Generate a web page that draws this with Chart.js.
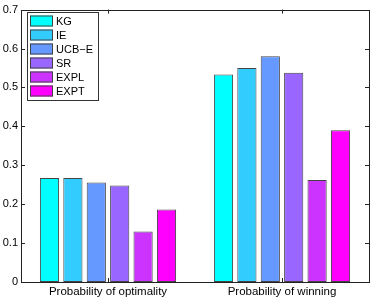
<!DOCTYPE html>
<html>
<head>
<meta charset="utf-8">
<script src="https://cdn.jsdelivr.net/npm/chart.js@4/dist/chart.umd.min.js"></script>
<style>
  html, body { margin: 0; padding: 0; background: #fff; }
  #wrap { width: 376px; height: 298px; }
</style>
</head>
<body>
<div id="wrap"><canvas id="c"></canvas></div>
<script>
// data
const categories = ['Probability of optimality', 'Probability of winning'];
const methods = ['KG', 'IE', 'UCB\u2212E', 'SR', 'EXPL', 'EXPT'];
const KG   = [0.267, 0.533];
const IE   = [0.267, 0.550];
const UCBE = [0.256, 0.580];
const SR   = [0.248, 0.538];
const EXPL = [0.130, 0.262];
const EXPT = [0.186, 0.390];
const yTicks = [0, 0.1, 0.2, 0.3, 0.4, 0.5, 0.6, 0.7];

const colors = ['#00ffff', '#33ccff', '#6699ff', '#9966ff', '#cc33ff', '#ff00ff'];
const series = [KG, IE, UCBE, SR, EXPL, EXPT];

const FONT = 'Liberation Sans, Arial, Helvetica, sans-serif';

// matlab style box, inside ticks and legend
const matlabBox = {
  id: 'matlabBox',
  afterDraw(chart) {
    const ctx = chart.ctx;
    const a = chart.chartArea;
    const y = chart.scales.y, x = chart.scales.x;
    ctx.save();
    ctx.strokeStyle = '#222';
    ctx.lineWidth = 1;
    ctx.strokeRect(Math.round(a.left) + 0.5, Math.round(a.top) + 0.5,
      Math.round(a.right - a.left), Math.round(a.bottom - a.top));
    ctx.beginPath();
    yTicks.forEach(v => {
      const py = Math.round(y.getPixelForValue(v)) + 0.5;
      ctx.moveTo(a.left, py); ctx.lineTo(a.left + 4, py);
      ctx.moveTo(a.right, py); ctx.lineTo(a.right - 4, py);
    });
    categories.forEach((c, i) => {
      const px = Math.round(x.getPixelForValue(i)) + 0.5;
      ctx.moveTo(px, a.bottom); ctx.lineTo(px, a.bottom - 4);
      ctx.moveTo(px, a.top); ctx.lineTo(px, a.top + 4);
    });
    ctx.stroke();

    // legend
    const lx = 27, ly = 12, lw = 71, lh = 88;
    ctx.fillStyle = '#fff';
    ctx.fillRect(lx, ly, lw, lh);
    ctx.strokeStyle = '#333';
    ctx.strokeRect(lx + 0.5, ly + 0.5, lw, lh);
    ctx.font = '11px ' + FONT;
    ctx.textBaseline = 'middle';
    chart.data.datasets.forEach((ds, i) => {
      const cy = 20.5 + i * 14;
      ctx.fillStyle = ds.backgroundColor;
      ctx.fillRect(30, cy - 5, 23, 11);
      ctx.strokeStyle = '#444';
      ctx.strokeRect(30.5, cy - 4.5, 22, 10);
      ctx.fillStyle = '#000';
      ctx.fillText(ds.label, 56, cy + 1);
    });
    ctx.restore();
  }
};

new Chart(document.getElementById('c'), {
  type: 'bar',
  data: {
    labels: categories,
    datasets: methods.map((m, i) => ({
      label: m,
      data: series[i],
      backgroundColor: colors[i],
      borderColor: '#444',
      borderWidth: 1,
      borderSkipped: false,
      categoryPercentage: 0.807,
      barPercentage: 0.82
    }))
  },
  options: {
    responsive: true,
    maintainAspectRatio: false,
    animation: false,
    layout: { padding: { left: 0, right: 7, top: 8, bottom: 0 } },
    scales: {
      x: {
        grid: { display: false, drawTicks: false },
        border: { display: false },
        ticks: { color: '#000', font: { family: FONT, size: 11.5 }, padding: 3, maxRotation: 0 },
        afterFit(s) { s.height = 16; }
      },
      y: {
        min: 0,
        max: 0.7,
        grid: { display: false, drawTicks: false },
        border: { display: false },
        afterBuildTicks(s) { s.ticks = yTicks.map(v => ({ value: v })); },
        ticks: {
          color: '#000',
          font: { family: FONT, size: 11 },
          padding: 3,
          callback: v => String(Math.round(v * 10) / 10)
        },
        afterFit(s) { s.width = 21; }
      }
    },
    plugins: {
      legend: { display: false },
      tooltip: { enabled: false }
    }
  },
  plugins: [matlabBox]
});
</script>
</body>
</html>
